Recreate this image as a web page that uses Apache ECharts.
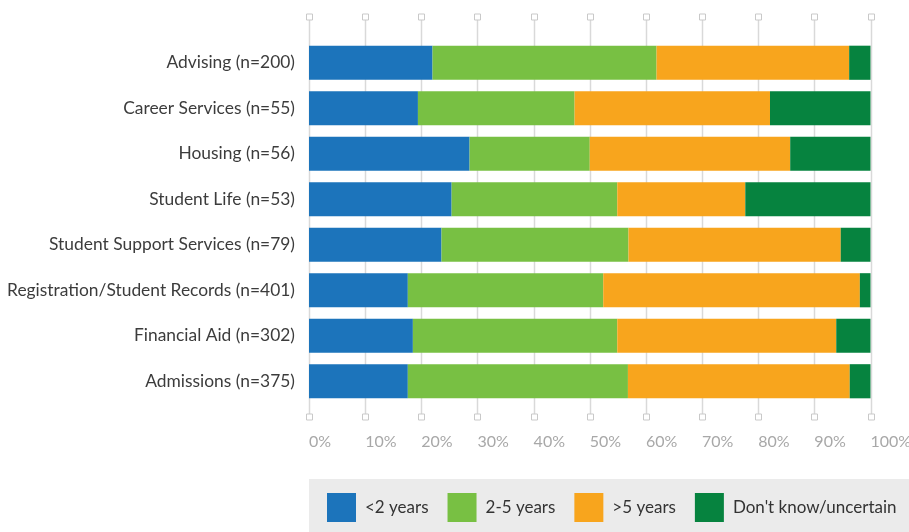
<!DOCTYPE html>
<html>
<head>
<meta charset="utf-8">
<script src="https://cdn.jsdelivr.net/npm/echarts@6/dist/echarts.min.js"></script>
<style>
  html, body { margin: 0; padding: 0; background: #ffffff; }
  #chart { width: 909px; height: 532px; }
</style>
</head>
<body>
<div id="chart"></div>
<script>
// Service areas (top to bottom)
const categories = [
  'Advising (n=200)',
  'Career Services (n=55)',
  'Housing (n=56)',
  'Student Life (n=53)',
  'Student Support Services (n=79)',
  'Registration/Student Records (n=401)',
  'Financial Aid (n=302)',
  'Admissions (n=375)'
];

// Share of respondents (%) per response
const lessThan2 = [22.0, 19.4, 28.6, 25.4, 23.6, 17.6, 18.5, 17.6];
const twoToFive = [39.9, 27.9, 21.4, 29.5, 33.3, 34.8, 36.4, 39.2];
const moreThan5 = [34.3, 34.8, 35.7, 22.8, 37.8, 45.7, 39.0, 39.5];
const unsure    = [3.8, 17.9, 14.3, 22.3, 5.3, 1.9, 6.1, 3.7];

const seriesNames = ['<2 years', '2-5 years', '>5 years', "Don't know/uncertain"];
const seriesValues = [lessThan2, twoToFive, moreThan5, unsure];
const colors = ['#1c74bb', '#78c043', '#f8a51d', '#06833f'];

// Percentage tick values for the x axis
const ticks = [0, 10, 20, 30, 40, 50, 60, 70, 80, 90, 100];

const FONT = 'Lato';

const chart = echarts.init(document.getElementById('chart'), null, { renderer: 'canvas' });

const barSeries = seriesNames.map((name, i) => ({
  name: name,
  type: 'bar',
  stack: 'total',
  barCategoryGap: '25%',
  z: 2,
  itemStyle: { color: colors[i] },
  emphasis: { disabled: true },
  data: seriesValues[i]
}));

// Gridlines with small square caps above and below the plot area
const tickSeries = {
  type: 'custom',
  name: 'ticks',
  silent: true,
  z: 1,
  clip: false,
  encode: { x: 0, y: 1 },
  data: ticks.map(v => [v, 0]),
  renderItem: function (params, api) {
    const x = Math.round(api.coord([api.value(0), 0])[0]) + 0.5;
    const cs = params.coordSys;
    const top = cs.y;
    const bottom = cs.y + cs.height;
    const lineStyle = { stroke: '#d9d9d9', lineWidth: 1.5 };
    const sqStyle = { fill: '#ffffff', stroke: '#c9c9c9', lineWidth: 1 };
    return {
      type: 'group',
      children: [
        { type: 'line', shape: { x1: x, y1: top - 20, x2: x, y2: bottom + 10 }, style: lineStyle },
        { type: 'rect', shape: { x: x - 3, y: top - 26, width: 6, height: 6 }, style: sqStyle },
        { type: 'rect', shape: { x: x - 3, y: bottom + 10, width: 6, height: 6 }, style: sqStyle }
      ]
    };
  }
};

const option = {
  backgroundColor: '#ffffff',
  animation: false,
  textStyle: { fontFamily: FONT },
  grid: { left: 309, right: 38.5, top: 40, bottom: 128, containLabel: false, outerBoundsMode: 'none' },
  graphic: [
    {
      type: 'rect',
      left: 309, top: 479,
      shape: { width: 600, height: 53 },
      style: { fill: '#ebebeb' },
      z: -1
    }
  ],
  legend: {
    data: seriesNames,
    left: 327,
    top: 493,
    padding: 0,
    itemWidth: 29,
    itemHeight: 29,
    itemGap: 19,
    icon: 'rect',
    selectedMode: false,
    textStyle: { fontFamily: FONT, fontSize: 17, color: '#333333', padding: [0, 0, 0, 4] }
  },
  xAxis: {
    type: 'value',
    min: 0,
    max: 100,
    interval: 10,
    axisLine: { show: false },
    axisTick: { show: false },
    splitLine: { show: false },
    axisLabel: {
      formatter: '{value}%',
      align: 'left',
      margin: 30,
      fontFamily: FONT,
      fontSize: 16,
      color: '#a8a8a8'
    }
  },
  yAxis: {
    type: 'category',
    inverse: true,
    data: categories,
    axisLine: { show: false },
    axisTick: { show: false },
    axisLabel: {
      margin: 14,
      fontFamily: FONT,
      fontSize: 17.4,
      color: '#3c3c3c'
    }
  },
  series: [tickSeries].concat(barSeries)
};

chart.setOption(option);
</script>
</body>
</html>
